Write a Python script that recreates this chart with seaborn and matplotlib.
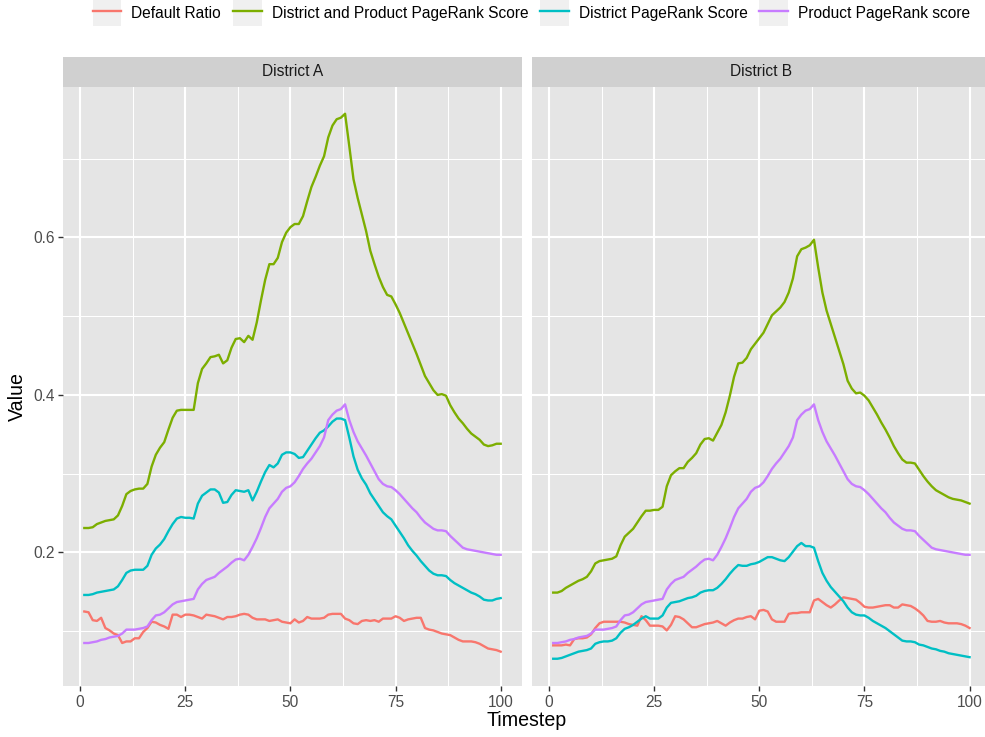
import matplotlib
matplotlib.use("Agg")
import matplotlib.pyplot as plt
import pandas as pd
import seaborn as sns
from matplotlib.legend_handler import HandlerLine2D
from matplotlib.lines import Line2D
from matplotlib.patches import Rectangle

# ---------------------------------------------------------------- data
timestep = list(range(1, 101))

series_names = [
    "Default Ratio",
    "District and Product PageRank Score",
    "District PageRank Score",
    "Product PageRank score",
]
series_colors = ["#F8766D", "#7CAE00", "#00BFC4", "#C77CFF"]
districts = ["District A", "District B"]

# Product PageRank score (shared by both districts)
product_score = [
    0.085, 0.085, 0.086, 0.087, 0.089, 0.090, 0.092, 0.093, 0.094, 0.097,
    0.102, 0.102, 0.102, 0.103, 0.104, 0.106, 0.114, 0.120, 0.121, 0.124,
    0.129, 0.134, 0.137, 0.138, 0.139, 0.140, 0.141, 0.153, 0.160, 0.165,
    0.167, 0.169, 0.174, 0.178, 0.182, 0.187, 0.191, 0.192, 0.190, 0.197,
    0.207, 0.218, 0.231, 0.245, 0.256, 0.262, 0.268, 0.277, 0.282, 0.284,
    0.289, 0.297, 0.306, 0.313, 0.319, 0.327, 0.335, 0.346, 0.368, 0.375,
    0.380, 0.382, 0.388, 0.368, 0.353, 0.341, 0.332, 0.323, 0.313, 0.303,
    0.293, 0.287, 0.284, 0.283, 0.279, 0.274, 0.268, 0.262, 0.256, 0.251,
    0.244, 0.238, 0.234, 0.230, 0.228, 0.228, 0.227, 0.221, 0.216, 0.211,
    0.206, 0.204, 0.203, 0.202, 0.201, 0.200, 0.199, 0.198, 0.197, 0.197,
]

a_default_ratio = [
    0.125, 0.124, 0.114, 0.113, 0.117, 0.104, 0.101, 0.097, 0.095, 0.085,
    0.087, 0.087, 0.091, 0.091, 0.099, 0.104, 0.112, 0.111, 0.108, 0.106,
    0.103, 0.121, 0.121, 0.118, 0.121, 0.121, 0.120, 0.118, 0.116, 0.121,
    0.120, 0.119, 0.117, 0.115, 0.118, 0.118, 0.119, 0.121, 0.122, 0.121,
    0.117, 0.115, 0.115, 0.115, 0.113, 0.114, 0.115, 0.112, 0.111, 0.110,
    0.115, 0.111, 0.113, 0.118, 0.116, 0.116, 0.116, 0.117, 0.121, 0.122,
    0.122, 0.122, 0.116, 0.114, 0.110, 0.109, 0.113, 0.114, 0.113, 0.114,
    0.112, 0.116, 0.116, 0.116, 0.119, 0.117, 0.113, 0.115, 0.116, 0.117,
    0.117, 0.104, 0.102, 0.101, 0.099, 0.097, 0.096, 0.095, 0.092, 0.089,
    0.087, 0.087, 0.087, 0.086, 0.084, 0.081, 0.078, 0.077, 0.076, 0.074,
]

a_joint_score = [
    0.231, 0.231, 0.232, 0.236, 0.238, 0.240, 0.241, 0.242, 0.247, 0.259,
    0.274, 0.278, 0.280, 0.281, 0.281, 0.287, 0.309, 0.324, 0.333, 0.340,
    0.356, 0.371, 0.380, 0.381, 0.381, 0.381, 0.381, 0.415, 0.433, 0.440,
    0.448, 0.449, 0.451, 0.440, 0.444, 0.460, 0.471, 0.472, 0.467, 0.475,
    0.470, 0.492, 0.520, 0.546, 0.566, 0.566, 0.574, 0.594, 0.606, 0.613,
    0.617, 0.617, 0.627, 0.646, 0.664, 0.677, 0.691, 0.703, 0.727, 0.742,
    0.750, 0.752, 0.757, 0.716, 0.674, 0.650, 0.629, 0.608, 0.583, 0.566,
    0.550, 0.537, 0.527, 0.525, 0.515, 0.504, 0.491, 0.478, 0.465, 0.452,
    0.438, 0.424, 0.415, 0.406, 0.400, 0.401, 0.399, 0.387, 0.378, 0.370,
    0.364, 0.357, 0.351, 0.347, 0.343, 0.337, 0.335, 0.336, 0.338, 0.338,
]

a_district_score = [
    0.146, 0.146, 0.147, 0.149, 0.150, 0.151, 0.152, 0.153, 0.157, 0.165,
    0.174, 0.177, 0.178, 0.178, 0.178, 0.183, 0.197, 0.205, 0.210, 0.217,
    0.227, 0.236, 0.243, 0.245, 0.244, 0.244, 0.243, 0.262, 0.272, 0.276,
    0.280, 0.280, 0.276, 0.263, 0.264, 0.273, 0.279, 0.278, 0.277, 0.279,
    0.266, 0.277, 0.290, 0.302, 0.311, 0.308, 0.313, 0.324, 0.327, 0.327,
    0.325, 0.320, 0.321, 0.329, 0.337, 0.345, 0.352, 0.355, 0.360, 0.366,
    0.370, 0.370, 0.368, 0.346, 0.322, 0.305, 0.294, 0.286, 0.275, 0.267,
    0.259, 0.251, 0.246, 0.242, 0.234, 0.226, 0.218, 0.209, 0.202, 0.196,
    0.189, 0.183, 0.177, 0.173, 0.171, 0.171, 0.170, 0.165, 0.161, 0.158,
    0.155, 0.152, 0.149, 0.147, 0.144, 0.140, 0.139, 0.139, 0.141, 0.142,
]

b_default_ratio = [
    0.082, 0.082, 0.082, 0.083, 0.082, 0.090, 0.091, 0.091, 0.092, 0.096,
    0.104, 0.110, 0.112, 0.112, 0.112, 0.112, 0.112, 0.111, 0.109, 0.108,
    0.107, 0.119, 0.114, 0.107, 0.107, 0.107, 0.106, 0.101, 0.108, 0.119,
    0.118, 0.115, 0.110, 0.105, 0.105, 0.107, 0.109, 0.110, 0.111, 0.113,
    0.110, 0.107, 0.111, 0.114, 0.116, 0.116, 0.118, 0.119, 0.115, 0.126,
    0.127, 0.125, 0.115, 0.112, 0.112, 0.112, 0.122, 0.123, 0.123, 0.124,
    0.124, 0.124, 0.139, 0.141, 0.137, 0.133, 0.130, 0.134, 0.139, 0.143,
    0.142, 0.141, 0.140, 0.136, 0.131, 0.130, 0.130, 0.131, 0.132, 0.133,
    0.133, 0.130, 0.130, 0.134, 0.133, 0.132, 0.129, 0.125, 0.120, 0.113,
    0.112, 0.112, 0.113, 0.111, 0.110, 0.110, 0.110, 0.109, 0.107, 0.104,
]

b_joint_score = [
    0.149, 0.149, 0.151, 0.155, 0.158, 0.161, 0.164, 0.166, 0.169, 0.176,
    0.186, 0.189, 0.190, 0.191, 0.192, 0.195, 0.209, 0.220, 0.225, 0.230,
    0.238, 0.246, 0.253, 0.253, 0.254, 0.254, 0.258, 0.284, 0.298, 0.303,
    0.307, 0.307, 0.315, 0.320, 0.326, 0.337, 0.344, 0.345, 0.342, 0.352,
    0.362, 0.378, 0.399, 0.423, 0.440, 0.441, 0.447, 0.458, 0.465, 0.472,
    0.479, 0.490, 0.501, 0.506, 0.511, 0.518, 0.530, 0.548, 0.576, 0.585,
    0.587, 0.590, 0.597, 0.562, 0.530, 0.507, 0.490, 0.473, 0.456, 0.439,
    0.418, 0.408, 0.402, 0.403, 0.399, 0.393, 0.384, 0.375, 0.365, 0.356,
    0.346, 0.335, 0.326, 0.318, 0.314, 0.314, 0.313, 0.305, 0.297, 0.290,
    0.284, 0.279, 0.276, 0.273, 0.270, 0.268, 0.267, 0.266, 0.264, 0.262,
]

b_district_score = [
    0.065, 0.065, 0.066, 0.068, 0.070, 0.072, 0.074, 0.075, 0.076, 0.078,
    0.084, 0.086, 0.087, 0.087, 0.088, 0.091, 0.098, 0.103, 0.105, 0.108,
    0.112, 0.116, 0.119, 0.116, 0.116, 0.116, 0.120, 0.130, 0.136, 0.137,
    0.138, 0.140, 0.142, 0.143, 0.145, 0.149, 0.151, 0.152, 0.152, 0.155,
    0.160, 0.166, 0.173, 0.179, 0.184, 0.183, 0.183, 0.185, 0.186, 0.188,
    0.191, 0.194, 0.194, 0.192, 0.190, 0.189, 0.194, 0.201, 0.208, 0.212,
    0.208, 0.208, 0.206, 0.189, 0.174, 0.164, 0.156, 0.150, 0.144, 0.138,
    0.130, 0.124, 0.121, 0.120, 0.120, 0.117, 0.113, 0.110, 0.107, 0.104,
    0.100, 0.096, 0.092, 0.088, 0.087, 0.087, 0.086, 0.083, 0.082, 0.080,
    0.078, 0.077, 0.075, 0.074, 0.072, 0.071, 0.070, 0.069, 0.068, 0.067,
]

x_ticks = [0, 25, 50, 75, 100]
y_ticks = [0.2, 0.4, 0.6]

# ---------------------------------------------------------------- long table
panel_series = {
    "District A": [a_default_ratio, a_joint_score, a_district_score, product_score],
    "District B": [b_default_ratio, b_joint_score, b_district_score, product_score],
}
frames = []
for district, columns in panel_series.items():
    for name, values in zip(series_names, columns):
        frames.append(pd.DataFrame({
            "Timestep": timestep,
            "Value": values,
            "Variable": name,
            "District": district,
        }))
df = pd.concat(frames, ignore_index=True)

# ---------------------------------------------------------------- style
plt.rcParams["font.family"] = ["Liberation Sans", "DejaVu Sans"]

W, H = 985, 737
fig = plt.figure(figsize=(W / 100, H / 100), dpi=100)


def fx(px):
    return px / W


def fy(py):
    return 1 - py / H


panel_top, panel_bottom = 86.5, 686.0
panel_lefts = [63.5, 532.4]
panel_width = 458.0
strip_top = 56.7

x_span = max(timestep) - min(timestep)
y_min = min(min(v) for cols in panel_series.values() for v in cols)
y_max = max(max(v) for cols in panel_series.values() for v in cols)
y_span = y_max - y_min

palette = dict(zip(series_names, series_colors))

for i, district in enumerate(districts):
    ax = fig.add_axes([fx(panel_lefts[i]), fy(panel_bottom),
                       panel_width / W, (panel_bottom - panel_top) / H])
    ax.set_facecolor("#E5E5E5")
    sns.lineplot(
        data=df[df["District"] == district], x="Timestep", y="Value",
        hue="Variable", hue_order=series_names, palette=palette,
        estimator=None, sort=False, linewidth=1.7, legend=False, ax=ax,
    )
    ax.set_xlim(min(timestep) - 0.05 * x_span, max(timestep) + 0.05 * x_span)
    ax.set_ylim(y_min - 0.05 * y_span, y_max + 0.05 * y_span)
    ax.set_xticks(x_ticks)
    ax.set_xticklabels([str(t) for t in x_ticks])
    ax.set_xticks([12.5, 37.5, 62.5, 87.5], minor=True)
    ax.set_yticks(y_ticks)
    ax.set_yticklabels([f"{t:.1f}" for t in y_ticks])
    ax.set_yticks([0.1, 0.3, 0.5, 0.7], minor=True)
    ax.grid(which="major", color="white", linewidth=1.5)
    ax.grid(which="minor", color="white", linewidth=0.75)
    ax.set_axisbelow(True)
    for spine in ax.spines.values():
        spine.set_visible(False)
    ax.tick_params(which="major", length=3.5, width=1.0, color="#333333",
                   labelsize=11.2, labelcolor="#4D4D4D", pad=2.8)
    ax.tick_params(which="minor", length=0)
    if i == 1:
        ax.tick_params(axis="y", which="both", left=False, labelleft=False)
    ax.set_xlabel("")
    ax.set_ylabel("")

    # facet strip
    sax = fig.add_axes([fx(panel_lefts[i]), fy(panel_top),
                        panel_width / W, (panel_top - strip_top) / H])
    sax.set_facecolor("#D0D0D0")
    sax.set_xticks([])
    sax.set_yticks([])
    for spine in sax.spines.values():
        spine.set_visible(False)
    sax.text(0.5, 0.5, district, ha="center", va="center",
             fontsize=11.2, color="#1A1A1A", transform=sax.transAxes)

fig.text(fx(526.5), fy(720), "Timestep", ha="center", va="center", fontsize=14.1)
fig.text(fx(17), fy(397), "Value", ha="center", va="center", rotation=90,
         fontsize=14.1)


# legend keys drawn on a light grey square, as in ggplot
class KeyHandler(HandlerLine2D):
    def create_artists(self, legend, orig_handle, xdescent, ydescent,
                       width, height, fontsize, trans):
        artists = super().create_artists(legend, orig_handle, xdescent, ydescent,
                                         width, height, fontsize, trans)
        side = width * 0.92
        box = Rectangle((-xdescent, -ydescent + height / 2 - side / 2), width, side,
                        facecolor="#F0F0F0", edgecolor="none", transform=trans)
        return [box] + list(artists)


handles = [Line2D([], [], color=c, linewidth=1.7) for c in series_colors]
fig.legend(
    handles, series_names, loc="center", bbox_to_anchor=(fx(531.5), fy(13)),
    ncol=4, frameon=False, fontsize=11.2, handlelength=1.86, handleheight=1.6,
    handletextpad=0.64, columnspacing=0.75, borderpad=0, borderaxespad=0,
    handler_map={Line2D: KeyHandler()},
)

fig.savefig("out.png", dpi=100)
